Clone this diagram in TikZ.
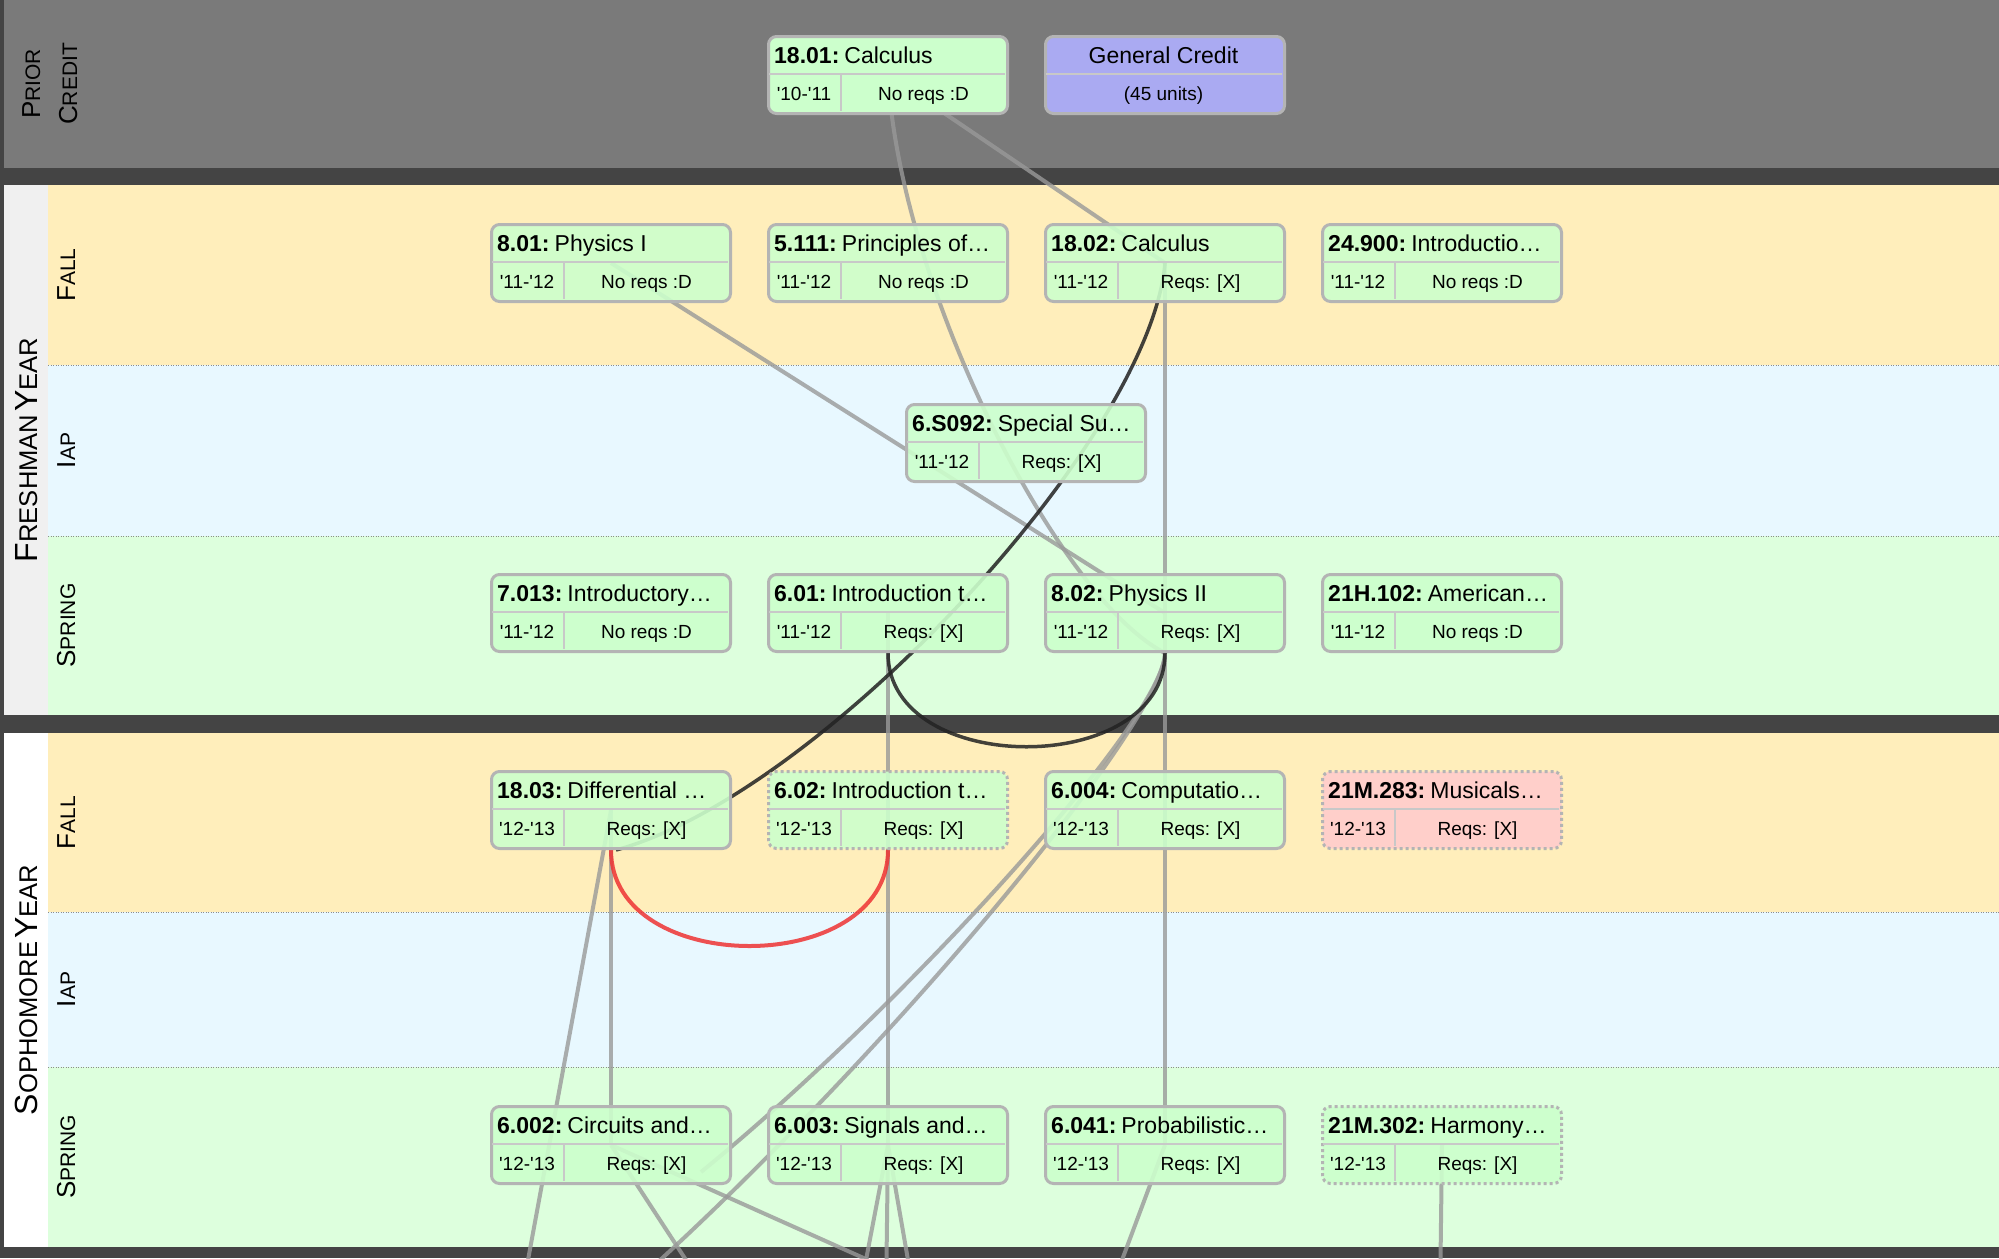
\documentclass[tikz,border=0pt]{standalone}
\usepackage{fontspec}
\setmainfont{Liberation Sans}
\usetikzlibrary{calc}
\pgfdeclarelayer{bg}
\pgfdeclarelayer{edges}
\pgfsetlayers{bg,edges,main}

\definecolor{priorgray}{HTML}{7A7A7A}
\definecolor{sepdark}{HTML}{444444}
\definecolor{fallc}{HTML}{FFEEBB}
\definecolor{iapc}{HTML}{E8F8FF}
\definecolor{springc}{HTML}{DDFFDD}
\definecolor{labelgray}{HTML}{F0F0F0}
\definecolor{boxgreen}{HTML}{CCFFCC}
\definecolor{boxpink}{HTML}{FFCCCC}
\definecolor{boxpurple}{HTML}{AAAAF2}
\definecolor{boxborder}{HTML}{B4B4B4}
\definecolor{divc}{HTML}{C8C8C8}
\definecolor{linegray}{HTML}{999999}
\definecolor{lineblack}{HTML}{222222}
\definecolor{linered}{HTML}{EE3333}

\newcommand\bigA{\fontsize{26}{30}\selectfont}
\newcommand\smallA{\fontsize{21}{25}\selectfont}
\newcommand\bigB{\fontsize{32}{36}\selectfont}
\newcommand\smallB{\fontsize{25.6}{30}\selectfont}
\newcommand\yr[2]{\textquotesingle#1-\textquotesingle#2}

% #1 name, #2 x, #3 y (top), #4 extra style, #5 code, #6 title, #7 year, #8 reqs
\newcommand\course[8]{%
  \node[coursebox,#4] (#1) at (#2,#3) {};
  \draw[divider] ($(#2,#3)+(1.5,38.5)$) -- ($(#2,#3)+(237.5,38.5)$);
  \draw[divider] ($(#2,#3)+(74,38.5)$) -- ($(#2,#3)+(74,75.5)$);
  \node[hdrtext] at ($(#2,#3)+(7,28)$) {\textbf{#5:}\hspace{0.22em}#6};
  \node[subtext] at ($(#2,#3)+(37,65)$) {#7};
  \node[subtext] at ($(#2,#3)+(156.5,65)$) {#8};
}

\begin{document}
\begin{tikzpicture}[x=1pt,y=-1pt,
  coursebox/.style={draw=boxborder, line width=3pt, rounded corners=8pt,
    minimum width=239pt, minimum height=77pt, inner sep=0pt,
    fill=boxgreen, fill opacity=0.9, anchor=north west},
  solidfill/.style={fill opacity=1},
  dottedbox/.style={dash pattern=on 3pt off 3pt},
  pinkbox/.style={fill=boxpink},
  purplebox/.style={fill=boxpurple},
  divider/.style={draw=divc, line width=2pt},
  hdrtext/.style={anchor=base west, inner sep=0pt, font=\fontsize{23}{27}\selectfont},
  hdrmid/.style={anchor=base, inner sep=0pt, font=\fontsize{23}{27}\selectfont},
  subtext/.style={anchor=base, inner sep=0pt, font=\fontsize{19}{22}\selectfont},
  sidelabel/.style={rotate=90, anchor=base, inner sep=0pt},
  seasonsep/.style={draw=black!45, line width=1pt, dash pattern=on 1pt off 1.5pt},
  prereq/.style={draw=linegray, line width=4pt, draw opacity=0.8},
  coreq/.style={draw=lineblack, line width=3.5pt, draw opacity=0.85},
  badcoreq/.style={draw=linered, line width=4pt, draw opacity=0.85}
]
\useasboundingbox (0,0) rectangle (1999,1258);

\begin{pgfonlayer}{bg}
  \fill[sepdark] (0,0) rectangle (1999,1258);
  \fill[priorgray] (4,0) rectangle (1999,168);
  % freshman year
  \fill[labelgray] (4,185) rectangle (48,715);
  \fill[fallc] (48,185) rectangle (1999,365);
  \fill[iapc] (48,365) rectangle (1999,536);
  \fill[springc] (48,536) rectangle (1999,715);
  % sophomore year
  \fill[white] (4,733) rectangle (48,1247);
  \fill[fallc] (48,733) rectangle (1999,912);
  \fill[iapc] (48,912) rectangle (1999,1067);
  \fill[springc] (48,1067) rectangle (1999,1247);
  \draw[seasonsep] (48,365) -- (1999,365);
  \draw[seasonsep] (48,536) -- (1999,536);
  \draw[seasonsep] (48,912) -- (1999,912);
  \draw[seasonsep] (48,1067) -- (1999,1067);
\end{pgfonlayer}

% side labels
\node[sidelabel] (lprior) at (40,84) {{\bigA P}{\smallA RIOR}};
\node[sidelabel] (lcredit) at (77,84) {{\bigA C}{\smallA REDIT}};
\node[sidelabel] (lfresh) at (37,450) {{\bigB F}{\smallB RESHMAN} {\bigB Y}{\smallB EAR}};
\node[sidelabel] (lsoph) at (37,990) {{\bigB S}{\smallB OPHOMORE} {\bigB Y}{\smallB EAR}};
\node[sidelabel] (lff) at (75,275) {{\bigA F}{\smallA ALL}};
\node[sidelabel] (lfi) at (75,450.5) {{\bigA I}{\smallA AP}};
\node[sidelabel] (lfs) at (75,625.5) {{\bigA S}{\smallA PRING}};
\node[sidelabel] (lsf) at (75,822.5) {{\bigA F}{\smallA ALL}};
\node[sidelabel] (lsi) at (75,989.5) {{\bigA I}{\smallA AP}};
\node[sidelabel] (lss) at (75,1157) {{\bigA S}{\smallA PRING}};

% prior credit
\course{c1801}{767}{35}{solidfill}{18.01}{Calculus}{\yr{10}{11}}{No reqs :D}
\node[coursebox,purplebox,solidfill] (cgen) at (1044,35) {};
\draw[divider] (1045.5,73.5) -- (1281.5,73.5);
\node[hdrmid] (tgen) at (1163.5,63) {General Credit};
\node[subtext] (tgen2) at (1163.5,100) {(45 units)};

% freshman fall
\course{c801}{490}{223}{}{8.01}{Physics I}{\yr{11}{12}}{No reqs :D}
\course{c5111}{767}{223}{}{5.111}{Principles of…}{\yr{11}{12}}{No reqs :D}
\course{c1802}{1044}{223}{}{18.02}{Calculus}{\yr{11}{12}}{Reqs: [X]}
\course{c24900}{1321}{223}{}{24.900}{Introductio…}{\yr{11}{12}}{No reqs :D}
% freshman IAP
\course{c6S092}{905}{403}{}{6.S092}{Special Su…}{\yr{11}{12}}{Reqs: [X]}
% freshman spring
\course{c7013}{490}{573}{}{7.013}{Introductory…}{\yr{11}{12}}{No reqs :D}
\course{c601}{767}{573}{}{6.01}{Introduction t…}{\yr{11}{12}}{Reqs: [X]}
\course{c802}{1044}{573}{}{8.02}{Physics II}{\yr{11}{12}}{Reqs: [X]}
\course{c21H102}{1321}{573}{}{21H.102}{American…}{\yr{11}{12}}{No reqs :D}
% sophomore fall
\course{c1803}{490}{770}{}{18.03}{Differential …}{\yr{12}{13}}{Reqs: [X]}
\course{c602}{767}{770}{dottedbox}{6.02}{Introduction t…}{\yr{12}{13}}{Reqs: [X]}
\course{c6004}{1044}{770}{}{6.004}{Computatio…}{\yr{12}{13}}{Reqs: [X]}
\course{c21M283}{1321}{770}{dottedbox,pinkbox}{21M.283}{Musicals…}{\yr{12}{13}}{Reqs: [X]}
% sophomore spring
\course{c6002}{490}{1105}{}{6.002}{Circuits and…}{\yr{12}{13}}{Reqs: [X]}
\course{c6003}{767}{1105}{}{6.003}{Signals and…}{\yr{12}{13}}{Reqs: [X]}
\course{c6041}{1044}{1105}{}{6.041}{Probabilistic…}{\yr{12}{13}}{Reqs: [X]}
\course{c21M302}{1321}{1105}{dottedbox}{21M.302}{Harmony…}{\yr{12}{13}}{Reqs: [X]}

% free ends below the picture
\coordinate (e1803) at (528,1260);
\coordinate (eB) at (658,1262);
\coordinate (e6002a) at (686,1260);
\coordinate (e6002b) at (868,1260);
\coordinate (e6003a) at (866,1260);
\coordinate (e6003b) at (886.5,1260);
\coordinate (e6003c) at (908,1260);
\coordinate (e6041) at (1122,1260);
\coordinate (e21M302) at (1440.5,1260);

\begin{pgfonlayer}{edges}
  \draw[prereq] (c1801.center) -- (c1802.center);
  \draw[prereq] (c1801.center) .. controls (900,290) and (1060,600) .. (c802.south);
  \draw[prereq] (c801.center) -- (c802.center);
  \draw[prereq] (c1802.center) -- (c6041.center);
  \draw[prereq] (c601.center) -- (c602.center);
  \draw[prereq] (c602.center) -- (c6003.center);
  \draw[prereq] (c1803.center) -- (c6002.center);
  \draw[prereq] (c1803.center) -- (e1803);
  \draw[prereq] (c802.south) .. controls (1164,720) and (900,1010) .. ($(c6002.center)+(90,27)$);
  \draw[prereq] (c802.south) .. controls (1164,720) and (900,1040) .. (eB);
  \draw[prereq] (c6002.center) -- (e6002a);
  \draw[prereq] (c6002.center) -- (e6002b);
  \draw[prereq] (c6003.center) -- (e6003a);
  \draw[prereq] (c6003.center) -- (e6003b);
  \draw[prereq] (c6003.center) -- (e6003c);
  \draw[prereq] (c6041.center) -- (e6041);
  \draw[prereq] (c21M302.center) -- (e21M302);
  \draw[coreq] (c1802.center) .. controls (1150,440) and (820,795) .. ($(c1803.south)+(5,0)$);
  \draw[coreq] (c601.south) .. controls +(0,125) and +(0,125) .. (c802.south);
  \draw[badcoreq] (c1803.south) .. controls +(0,128) and +(0,128) .. (c602.south);
\end{pgfonlayer}
\end{tikzpicture}
\end{document}
